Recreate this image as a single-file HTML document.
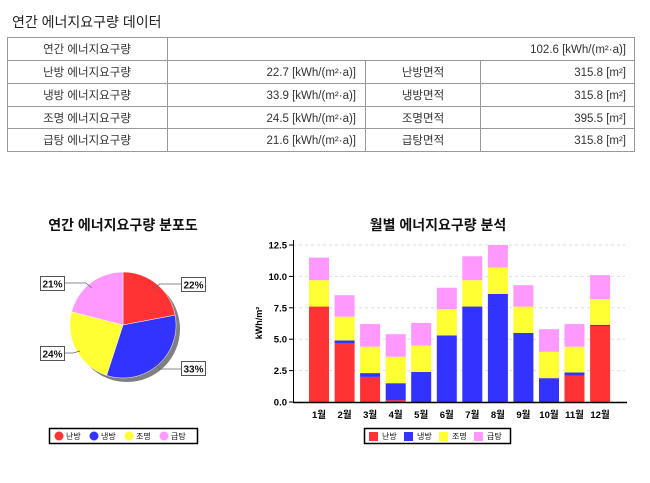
<!DOCTYPE html>
<html><head><meta charset="utf-8"><style>
body{margin:0;background:#fff;width:650px;height:478px;overflow:hidden;font-family:"Liberation Sans","Noto Sans CJK KR",sans-serif;}
</style></head><body>
<svg id="s" width="650" height="478" xmlns="http://www.w3.org/2000/svg" font-family="Liberation Sans, Noto Sans CJK KR, sans-serif">
<text x="12" y="27" font-size="14" fill="#222">연간 에너지요구량 데이터</text>
<g stroke="#999" stroke-width="1" fill="none">
<rect x="7.5" y="37.5" width="627" height="114"/>
<line x1="7" y1="60.5" x2="635" y2="60.5"/><line x1="7" y1="83.5" x2="635" y2="83.5"/>
<line x1="7" y1="106.5" x2="635" y2="106.5"/><line x1="7" y1="128.5" x2="635" y2="128.5"/>
<line x1="167.5" y1="37" x2="167.5" y2="152"/>
<line x1="365.5" y1="60" x2="365.5" y2="152"/><line x1="480.5" y1="60" x2="480.5" y2="152"/>
</g>
<g font-size="11.5" fill="#333">
<text x="87" y="53" text-anchor="middle">연간 에너지요구량</text>
<text x="626" y="53" text-anchor="end">102.6  [kWh/(m²·a)]</text>
<text x="87" y="76" text-anchor="middle">난방 에너지요구량</text>
<text x="87" y="99" text-anchor="middle">냉방 에너지요구량</text>
<text x="87" y="122" text-anchor="middle">조명 에너지요구량</text>
<text x="87" y="144" text-anchor="middle">급탕 에너지요구량</text>
<text x="356" y="76" text-anchor="end">22.7  [kWh/(m²·a)]</text>
<text x="356" y="99" text-anchor="end">33.9  [kWh/(m²·a)]</text>
<text x="356" y="122" text-anchor="end">24.5  [kWh/(m²·a)]</text>
<text x="356" y="144" text-anchor="end">21.6  [kWh/(m²·a)]</text>
<text x="423" y="76" text-anchor="middle">난방면적</text>
<text x="423" y="99" text-anchor="middle">냉방면적</text>
<text x="423" y="122" text-anchor="middle">조명면적</text>
<text x="423" y="144" text-anchor="middle">급탕면적</text>
<text x="626" y="76" text-anchor="end">315.8  [m²]</text>
<text x="626" y="99" text-anchor="end">315.8  [m²]</text>
<text x="626" y="122" text-anchor="end">395.5  [m²]</text>
<text x="626" y="144" text-anchor="end">315.8  [m²]</text>
</g>
<text x="123" y="230" font-size="14" font-weight="bold" text-anchor="middle" fill="#111">연간 에너지요구량 분포도</text>
<text x="438" y="230" font-size="14" font-weight="bold" text-anchor="middle" fill="#111">월별 에너지요구량 분석</text>
<!-- pie -->
<circle cx="127" cy="329" r="53" fill="#808080"/>
<path d="M123,325 L123,272 A53,53 0 0 1 175.1,315.1 Z" fill="#ff3333" stroke="#fff" stroke-width="0.5"/>
<path d="M123,325 L175.1,315.1 A53,53 0 0 1 106.6,375.4 Z" fill="#3333ff" stroke="#fff" stroke-width="0.5"/>
<path d="M123,325 L106.6,375.4 A53,53 0 0 1 71.6,311.8 Z" fill="#ffff33" stroke="#fff" stroke-width="0.5"/>
<path d="M123,325 L71.6,311.8 A53,53 0 0 1 123,272 Z" fill="#ff99ff" stroke="#fff" stroke-width="0.5"/>
<g stroke="#666" stroke-width="0.8" fill="none">
<polyline points="153,289 160,284 181,284"/><polyline points="155,364 160,369 181,369"/>
<polyline points="80,351 73,353 64,353"/><polyline points="92,288 86,283 64,283"/>
</g>
<g font-size="10" font-weight="bold" fill="#111">
<rect x="181.5" y="277.5" width="24" height="14" fill="#fff" stroke="#555"/><text x="193.5" y="288.5" text-anchor="middle">22%</text>
<rect x="181.5" y="361.5" width="24" height="14" fill="#fff" stroke="#555"/><text x="193.5" y="372.5" text-anchor="middle">33%</text>
<rect x="40.5" y="346.5" width="24" height="14" fill="#fff" stroke="#555"/><text x="52.5" y="357.5" text-anchor="middle">24%</text>
<rect x="40.5" y="276.5" width="24" height="14" fill="#fff" stroke="#555"/><text x="52.5" y="287.5" text-anchor="middle">21%</text>
</g>
<rect x="49.5" y="428.5" width="148" height="15" fill="#fff" stroke="#000" stroke-width="1.5"/>
<g font-size="8" fill="#111">
<circle cx="59" cy="436" r="4.5" fill="#ff3333"/><text x="66" y="439">난방</text>
<circle cx="94" cy="436" r="4.5" fill="#3333ff"/><text x="101" y="439">냉방</text>
<circle cx="129" cy="436" r="4.5" fill="#ffff33"/><text x="136" y="439">조명</text>
<circle cx="164" cy="436" r="4.5" fill="#ff99ff"/><text x="171" y="439">급탕</text>
</g>
<rect x="364.5" y="428.5" width="146" height="15" fill="#fff" stroke="#000" stroke-width="1.5"/>
<g font-size="8" fill="#111">
<rect x="369" y="432" width="9" height="9" fill="#ff3333"/><text x="382" y="439">난방</text>
<rect x="404" y="432" width="9" height="9" fill="#3333ff"/><text x="417" y="439">냉방</text>
<rect x="439" y="432" width="9" height="9" fill="#ffff33"/><text x="452" y="439">조명</text>
<rect x="474" y="432" width="9" height="9" fill="#ff99ff"/><text x="487" y="439">급탕</text>
</g>
<g id="bars"></g>
<g>
<rect x="309" y="306.5" width="20" height="95.5" fill="#ff3333"/><rect x="309" y="280.2" width="20" height="26.4" fill="#ffff33"/><rect x="309" y="257.6" width="20" height="22.6" fill="#ff99ff"/>
<rect x="334.6" y="343" width="20" height="59" fill="#ff3333"/><rect x="334.6" y="340.5" width="20" height="2.5" fill="#3333ff"/><rect x="334.6" y="316.6" width="20" height="23.9" fill="#ffff33"/><rect x="334.6" y="295.2" width="20" height="21.4" fill="#ff99ff"/>
<rect x="360.1" y="376.9" width="20" height="25.1" fill="#ff3333"/><rect x="360.1" y="373.1" width="20" height="3.8" fill="#3333ff"/><rect x="360.1" y="346.7" width="20" height="26.4" fill="#ffff33"/><rect x="360.1" y="324.1" width="20" height="22.6" fill="#ff99ff"/>
<rect x="385.7" y="400.1" width="20" height="1.9" fill="#ff3333"/><rect x="385.7" y="383.2" width="20" height="17" fill="#3333ff"/><rect x="385.7" y="356.8" width="20" height="26.4" fill="#ffff33"/><rect x="385.7" y="334.2" width="20" height="22.6" fill="#ff99ff"/>
<rect x="411.2" y="371.9" width="20" height="30.1" fill="#3333ff"/><rect x="411.2" y="345.5" width="20" height="26.4" fill="#ffff33"/><rect x="411.2" y="322.9" width="20" height="22.6" fill="#ff99ff"/>
<rect x="436.8" y="335.4" width="20" height="66.6" fill="#3333ff"/><rect x="436.8" y="309.1" width="20" height="26.4" fill="#ffff33"/><rect x="436.8" y="287.7" width="20" height="21.4" fill="#ff99ff"/>
<rect x="462.3" y="306.5" width="20" height="95.5" fill="#3333ff"/><rect x="462.3" y="280.2" width="20" height="26.4" fill="#ffff33"/><rect x="462.3" y="256.3" width="20" height="23.9" fill="#ff99ff"/>
<rect x="487.9" y="294" width="20" height="108" fill="#3333ff"/><rect x="487.9" y="267.6" width="20" height="26.4" fill="#ffff33"/><rect x="487.9" y="245" width="20" height="22.6" fill="#ff99ff"/>
<rect x="513.4" y="332.9" width="20" height="69.1" fill="#3333ff"/><rect x="513.4" y="306.5" width="20" height="26.4" fill="#ffff33"/><rect x="513.4" y="285.2" width="20" height="21.4" fill="#ff99ff"/>
<rect x="539" y="378.1" width="20" height="23.9" fill="#3333ff"/><rect x="539" y="351.8" width="20" height="26.4" fill="#ffff33"/><rect x="539" y="329.2" width="20" height="22.6" fill="#ff99ff"/>
<rect x="564.5" y="375.6" width="20" height="26.4" fill="#ff3333"/><rect x="564.5" y="372.5" width="20" height="3.1" fill="#3333ff"/><rect x="564.5" y="346.7" width="20" height="25.8" fill="#ffff33"/><rect x="564.5" y="324.1" width="20" height="22.6" fill="#ff99ff"/>
<rect x="590.1" y="326" width="20" height="76" fill="#ff3333"/><rect x="590.1" y="324.8" width="20" height="1.3" fill="#993333"/><rect x="590.1" y="299" width="20" height="25.7" fill="#ffff33"/><rect x="590.1" y="275.1" width="20" height="23.9" fill="#ff99ff"/>
<line x1="293" y1="402.5" x2="627" y2="402.5" stroke="#000" stroke-width="1.5"/>
</g>
</svg>
<script>
var h="",Y=function(v){return 402-v*12.56};
for(var t=0;t<=5;t++){var v=t*2.5,y=Y(v);h+='<line x1="293" x2="625" y1="'+y+'" y2="'+y+'" stroke="#ddd" stroke-dasharray="3,3"/>';
h+='<line x1="289" x2="293" y1="'+y+'" y2="'+y+'" stroke="#000"/><text x="287" y="'+(y+3.5)+'" font-size="9.5" font-weight="bold" text-anchor="end">'+v.toFixed(1)+'</text>';}
for(var i=0;i<12;i++){var x=309+i*25.55;
h+='<text x="'+(x+10)+'" y="418" font-size="9.5" font-weight="bold" text-anchor="middle">'+(i+1)+'월</text>';}
h+='<line x1="293.5" y1="240" x2="293.5" y2="403" stroke="#000"/>';
h+='<text transform="translate(262,323) rotate(-90)" font-size="9" font-weight="bold" text-anchor="middle">kWh/m²</text>';
document.getElementById("bars").innerHTML=h;
</script>
</body></html>
